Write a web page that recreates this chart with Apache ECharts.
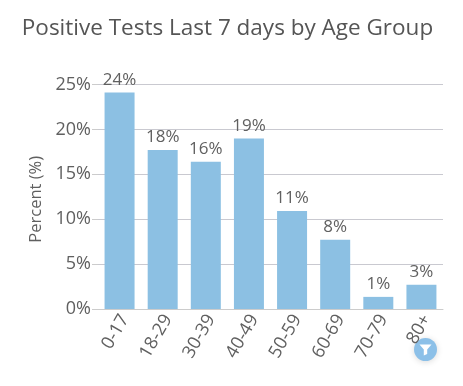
<!DOCTYPE html>
<html>
<head>
<meta charset="utf-8">
<title>Positive Tests Last 7 days by Age Group</title>
<script src="https://cdn.jsdelivr.net/npm/echarts@6/dist/echarts.min.js"></script>
<style>
  html, body { margin: 0; padding: 0; background: #fff; }
  #chart { width: 463px; height: 386px; }
</style>
</head>
<body>
<div id="chart"></div>
<script>
const ageGroups = ["0-17", "18-29", "30-39", "40-49", "50-59", "60-69", "70-79", "80+"];
const percentPositive = [24.1, 17.7, 16.4, 19.0, 10.9, 7.7, 1.35, 2.7];
const tickValues = [0, 5, 10, 15, 20, 25];

const textColor = "#606060";
const barColor = "#8cc0e3";
const font = "Open Sans";

const chart = echarts.init(document.getElementById("chart"));
chart.setOption({
  animation: false,
  backgroundColor: "#ffffff",
  textStyle: { fontFamily: font },
  title: {
    text: "Positive Tests Last 7 days by Age Group",
    left: 222.5,
    top: 12,
    textAlign: "center",
    textStyle: { color: "#555555", fontFamily: font, fontSize: 22.5, fontWeight: "normal" },
  },
  grid: { left: 98, right: 20, top: 84.5, bottom: 77 },
  xAxis: {
    type: "category",
    data: ageGroups,
    axisLine: { lineStyle: { color: "#cccccc", width: 1 } },
    axisTick: { show: false },
    axisLabel: {
      rotate: 60,
      interval: 0,
      margin: 4,
      verticalAlign: "top",
      lineHeight: 12,
      color: textColor,
      fontFamily: font,
      fontSize: 18,
    },
  },
  yAxis: {
    type: "value",
    min: tickValues[0],
    max: tickValues[tickValues.length - 1],
    interval: 5,
    name: "Percent (%)",
    nameLocation: "middle",
    nameGap: 49,
    nameTextStyle: { color: textColor, fontFamily: font, fontSize: 16.5, padding: [0, 5, 0, 0] },
    axisLine: { show: false },
    axisTick: { show: true, length: 6, lineStyle: { color: "#cccccc" } },
    axisLabel: {
      formatter: "{value}%",
      margin: 7,
      color: textColor,
      fontFamily: font,
      fontSize: 18,
    },
    splitLine: { lineStyle: { color: "#c9c9d0", width: 1 } },
  },
  series: [
    {
      type: "bar",
      data: percentPositive,
      barWidth: 30,
      itemStyle: { color: barColor },
      label: {
        show: true,
        position: "top",
        distance: 4,
        color: textColor,
        fontFamily: font,
        fontSize: 17,
        formatter: (p) => Math.round(p.value) + "%",
      },
    },
  ],
  graphic: [
    {
      type: "group",
      left: 414,
      top: 338,
      children: [
        {
          type: "circle",
          shape: { cx: 11.5, cy: 11.5, r: 11.5 },
          style: { fill: "#8cc0e8", shadowBlur: 6, shadowColor: "rgba(0,0,0,0.15)", shadowOffsetY: 1 },
        },
        {
          type: "polygon",
          shape: { points: [[5.5, 6.5], [17.5, 6.5], [13.2, 11.5], [13.2, 16], [9.8, 17.5], [9.8, 11.5]] },
          style: { fill: "#ffffff" },
        },
      ],
    },
  ],
});
</script>
</body>
</html>
